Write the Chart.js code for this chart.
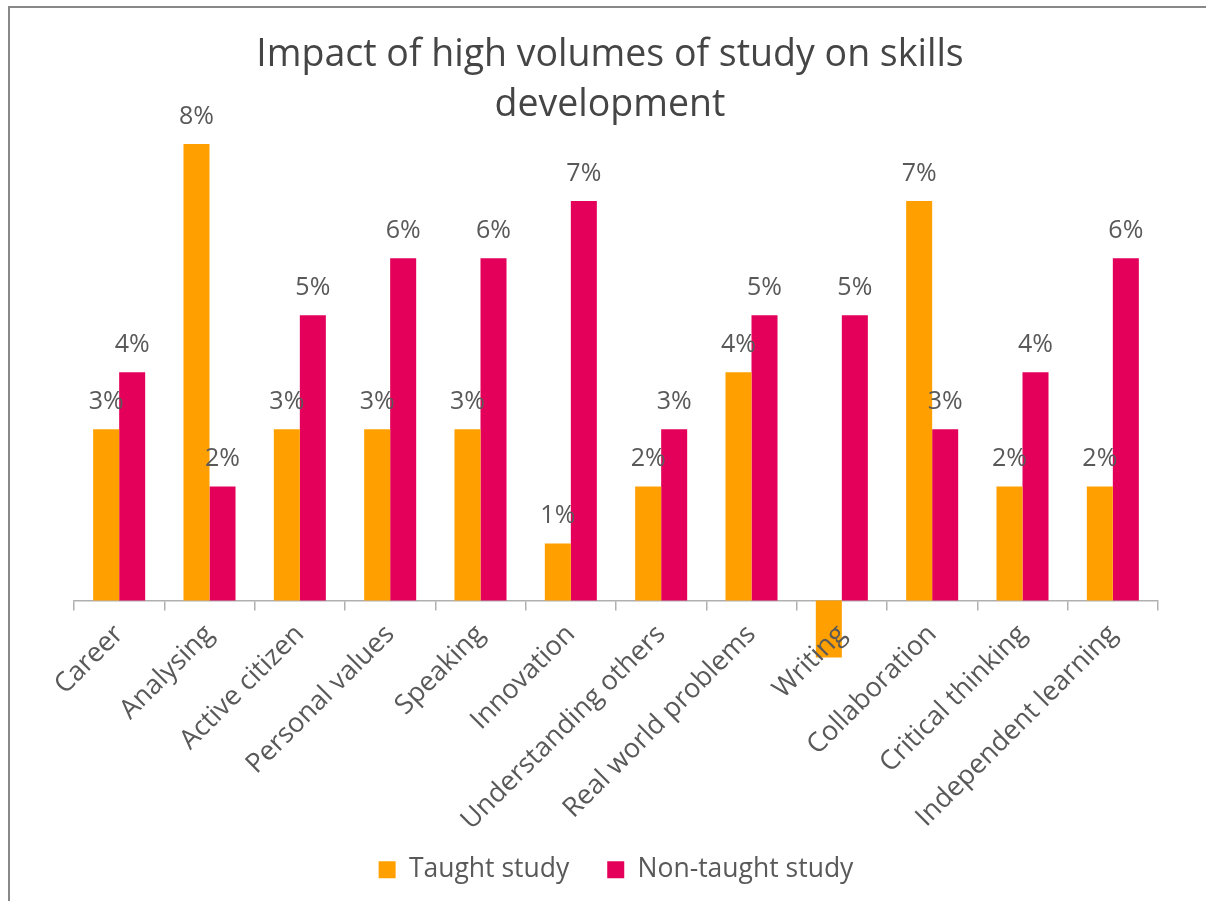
<!DOCTYPE html>
<html>
<head>
<meta charset="utf-8">
<title>Impact of high volumes of study on skills development</title>
<script src="https://cdn.jsdelivr.net/npm/chart.js@4/dist/chart.umd.min.js"></script>
<style>
  html, body { margin: 0; padding: 0; background: #fff; }
  #frame {
    position: absolute; left: 8px; top: 6px; width: 1300px; height: 1000px;
    border: 2px solid #888; box-sizing: border-box;
  }
  #chart { position: absolute; left: 0; top: 0; }
</style>
</head>
<body>
<div id="frame"></div>
<canvas id="chart" width="1206" height="901"></canvas>
<script>
const skills = [
  'Career', 'Analysing', 'Active citizen', 'Personal values', 'Speaking', 'Innovation',
  'Understanding others', 'Real world problems', 'Writing', 'Collaboration',
  'Critical thinking', 'Independent learning'
];
const taughtStudy = [3, 8, 3, 3, 3, 1, 2, 4, -1, 7, 2, 2];
const nonTaughtStudy = [4, 2, 5, 6, 6, 7, 3, 5, 5, 3, 4, 6];

const FONT = "'Open Sans', 'Noto Sans', sans-serif";
const TEXT = '#595959';

// percent labels above each positive bar
const valueLabels = {
  id: 'valueLabels',
  afterDatasetsDraw(chart) {
    const ctx = chart.ctx;
    ctx.save();
    ctx.font = '25px ' + FONT;
    ctx.fillStyle = TEXT;
    ctx.textAlign = 'center';
    ctx.textBaseline = 'alphabetic';
    chart.data.datasets.forEach((ds, di) => {
      chart.getDatasetMeta(di).data.forEach((bar, i) => {
        const v = ds.data[i];
        if (v < 0) return;
        ctx.fillText(v + '%', bar.x, bar.y - 20);
      });
    });
    ctx.restore();
  }
};

new Chart(document.getElementById('chart'), {
  type: 'bar',
  data: {
    labels: skills,
    datasets: [
      { label: 'Taught study', data: taughtStudy, backgroundColor: '#FFA000' },
      { label: 'Non-taught study', data: nonTaughtStudy, backgroundColor: '#E4005A' }
    ]
  },
  options: {
    responsive: false,
    animation: false,
    events: [],
    datasets: { bar: { categoryPercentage: 0.576, barPercentage: 1 } },
    layout: { padding: { left: 62, right: 48, top: 0, bottom: 8 } },
    scales: {
      // category axis sits on the zero line, labels hang below it (drawn over the bars)
      x: {
        position: { y: 0 },
        grid: { drawOnChartArea: false, tickLength: 9, color: '#b0b0b0', lineWidth: 1.5 },
        border: { color: '#b0b0b0', width: 1.5 },
        ticks: {
          z: 1,
          minRotation: 45, maxRotation: 45, padding: 9, autoSkip: false,
          color: TEXT, font: { family: FONT, size: 27 }
        }
      },
      // hidden value axis; the lower part of its range leaves room for the labels
      y: {
        min: -3.82, max: 8,
        grid: { display: false },
        border: { display: false },
        ticks: { display: false },
        afterFit(scale) { scale.width = 12; }
      }
    },
    plugins: {
      tooltip: { enabled: false },
      title: {
        display: true,
        text: ['Impact of high volumes of study on skills', 'development'],
        color: '#454545',
        font: { family: FONT, size: 37.5, weight: 'normal', lineHeight: 50 / 37.5 },
        padding: { top: 30, bottom: 14 }
      },
      legend: {
        position: 'bottom',
        fullSize: false,
        labels: {
          color: TEXT, font: { family: FONT, size: 26.5 },
          boxWidth: 17, boxHeight: 17, padding: 38
        }
      }
    }
  },
  plugins: [valueLabels]
});
</script>
</body>
</html>
